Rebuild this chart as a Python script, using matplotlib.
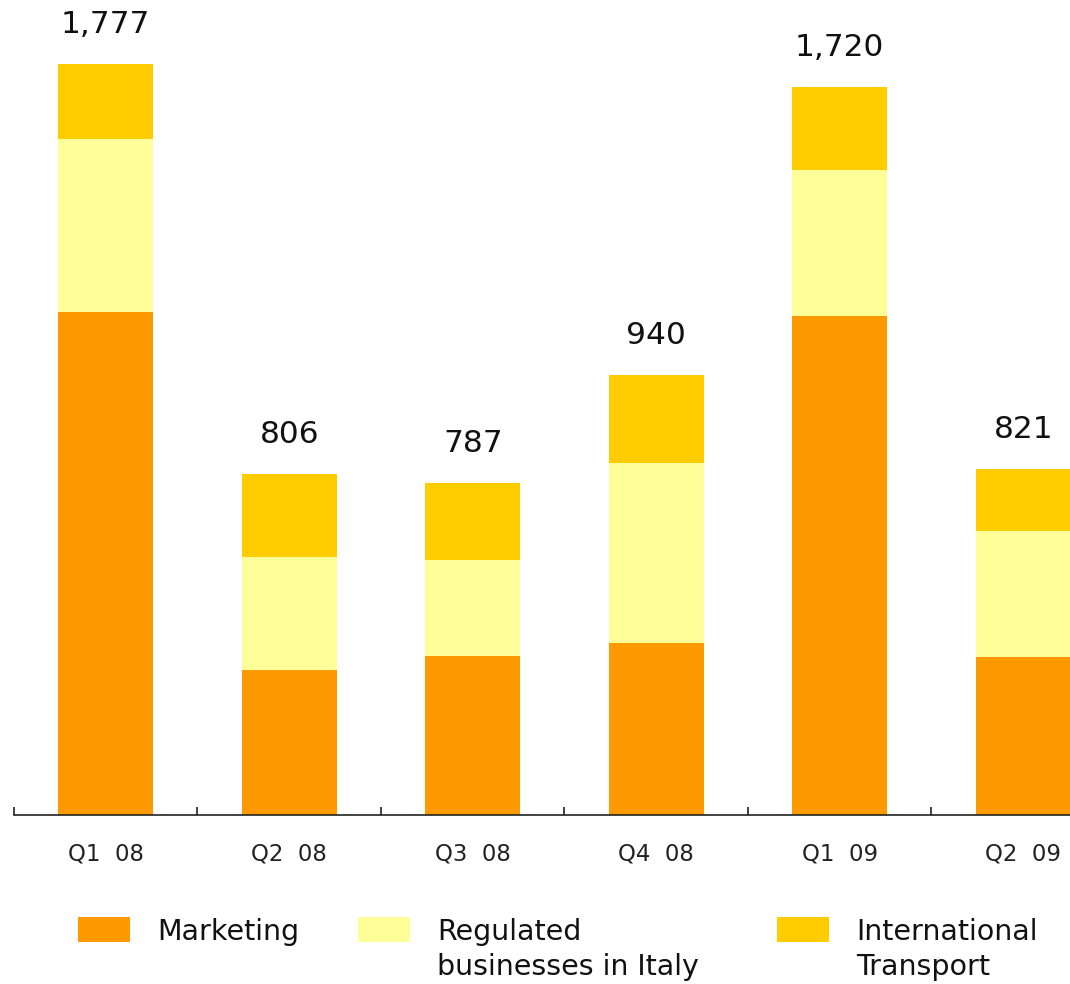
import matplotlib
matplotlib.use("Agg")
import matplotlib.pyplot as plt
import numpy as np
from matplotlib.patches import Rectangle

# data
quarters = ["Q1  08", "Q2  08", "Q3  08", "Q4  08", "Q1  09", "Q2  09"]
marketing = [1190, 343, 376, 407, 1181, 374]
regulated = [409, 267, 227, 426, 345, 298]
international = [177, 196, 182, 208, 196, 147]
total_labels = ["1,777", "806", "787", "940", "1,720", "821"]

series_names = ["Marketing", "Regulated\nbusinesses in Italy", "International\nTransport"]
colors = ["#FF9900", "#FFFF99", "#FFCC00"]

W, H = 1070, 984
fig = plt.figure(figsize=(W / 100, H / 100), dpi=100)
plt.rcParams['font.family'] = ['DejaVu Sans']

# axes placed in pixel terms; right end runs past the figure edge like the original
ax = fig.add_axes([14 / W, (H - 815) / H, 1101 / W, 815 / H])

x = np.arange(len(quarters))
bottom = np.zeros(len(quarters))
for vals, col in zip([marketing, regulated, international], colors):
    ax.bar(x, vals, width=0.52, bottom=bottom, color=col, edgecolor="none")
    bottom = bottom + np.array(vals)

for xi, top, lab in zip(x, bottom, total_labels):
    ax.annotate(lab, (xi, top), xytext=(0, 22.5), textcoords="offset points",
                ha="center", va="baseline", fontsize=22.5, color="#111111")

ax.set_xlim(-0.5, len(quarters) - 0.5)
ax.set_ylim(0, 1928)

for s in ["top", "right", "left"]:
    ax.spines[s].set_visible(False)
ax.spines["bottom"].set_linewidth(1.2)
ax.spines["bottom"].set_color("#222222")

ax.set_yticks([])
ax.set_xticks(x)
ax.set_xticklabels(quarters, fontsize=16.5, color="#222222")
ax.tick_params(axis="x", which="major", length=0, pad=20)
ax.set_xticks(np.arange(-0.5, len(quarters)), minor=True)
ax.tick_params(axis="x", which="minor", direction="in", length=5.5, width=1.2, color="#222222")

# legend drawn by hand to follow the original layout
legend_x = [78, 358, 777]
for lx, name, col in zip(legend_x, series_names, colors):
    fig.add_artist(Rectangle((lx / W, (H - 942) / H), 52 / W, 25 / H,
                             transform=fig.transFigure, facecolor=col, edgecolor="none"))
    fig.text((lx + 79) / W, (H - 918) / H, name, fontsize=20.5, color="#111111",
             ha="left", va="top", linespacing=1.33)

fig.savefig("out.png", dpi=100)
